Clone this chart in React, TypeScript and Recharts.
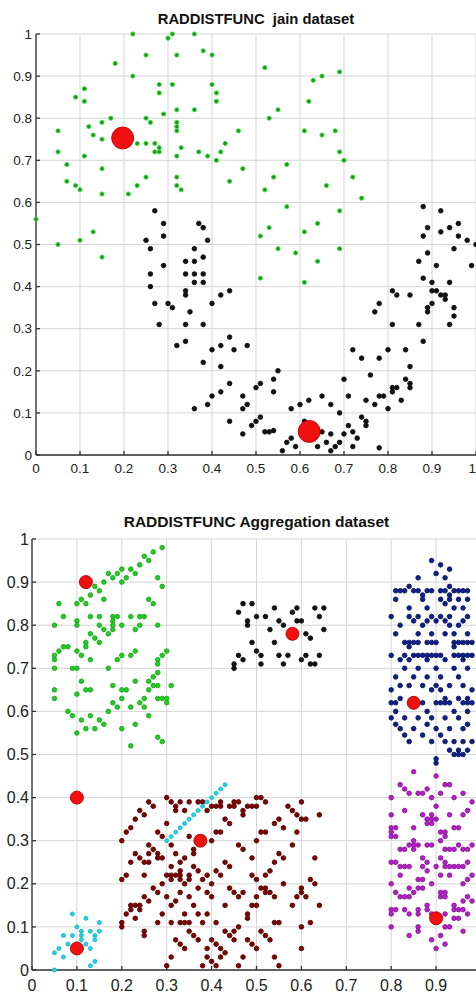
import React from "react";
import { ScatterChart, Scatter, XAxis, YAxis, CartesianGrid } from "recharts";

type P = [number, number];

const ticks = [0, 0.1, 0.2, 0.3, 0.4, 0.5, 0.6, 0.7, 0.8, 0.9, 1];

// jain dataset
const jainGreen: P[] = [
  [0.05, 0.77], [0.05, 0.72], [0.07, 0.69], [0.07, 0.65], [0.09, 0.64], [0.1, 0.63], [0.09, 0.85], [0.11, 0.87],
  [0.11, 0.84], [0.12, 0.78], [0.11, 0.71], [0.13, 0.76], [0.15, 0.79], [0.15, 0.75], [0.15, 0.68], [0.15, 0.62],
  [0.17, 0.8], [0.18, 0.93], [0.22, 1.0], [0.22, 0.9], [0.21, 0.62], [0.23, 0.74], [0.23, 0.64], [0.25, 0.95],
  [0.25, 0.8], [0.26, 0.79], [0.25, 0.74], [0.25, 0.66], [0.27, 0.74], [0.27, 0.72], [0.28, 0.72], [0.28, 0.73],
  [0.28, 0.88], [0.28, 0.86], [0.29, 0.81], [0.3, 0.99], [0.31, 1.0], [0.31, 0.88], [0.32, 0.95], [0.32, 0.82],
  [0.32, 0.79], [0.32, 0.78], [0.32, 0.77], [0.32, 0.71], [0.33, 0.73], [0.32, 0.66], [0.32, 0.64], [0.33, 0.63],
  [0.36, 1.0], [0.36, 0.82], [0.37, 0.72], [0.38, 0.96], [0.39, 0.71], [0.4, 0.95], [0.4, 0.88], [0.41, 0.86],
  [0.41, 0.84], [0.42, 0.72], [0.41, 0.7], [0.43, 0.74], [0.44, 0.65], [0.46, 0.77], [0.47, 0.68], [0.52, 0.92],
  [0.53, 0.8], [0.55, 0.82], [0.52, 0.63], [0.54, 0.66], [0.57, 0.69], [0.57, 0.59], [0.53, 0.54], [0.51, 0.52],
  [0.55, 0.49], [0.62, 0.84], [0.63, 0.89], [0.65, 0.9], [0.69, 0.91], [0.61, 0.77], [0.65, 0.76], [0.68, 0.77],
  [0.69, 0.72], [0.7, 0.7], [0.66, 0.64], [0.72, 0.66], [0.74, 0.61], [0.69, 0.58], [0.64, 0.55], [0.61, 0.53],
  [0.0, 0.56], [0.13, 0.53], [0.05, 0.5], [0.1, 0.51], [0.15, 0.47], [0.59, 0.48], [0.64, 0.46], [0.69, 0.49],
  [0.51, 0.42], [0.61, 0.41],
];

const jainBlack: P[] = [
  [0.25, 0.51], [0.26, 0.49], [0.26, 0.43], [0.26, 0.4], [0.29, 0.52], [0.29, 0.45], [0.27, 0.36], [0.3, 0.36],
  [0.31, 0.35], [0.28, 0.31], [0.32, 0.26], [0.34, 0.27], [0.34, 0.46], [0.34, 0.43], [0.34, 0.39], [0.34, 0.38],
  [0.34, 0.31], [0.35, 0.34], [0.36, 0.49], [0.36, 0.46], [0.36, 0.43], [0.36, 0.41], [0.38, 0.47], [0.38, 0.43],
  [0.38, 0.41], [0.38, 0.31], [0.39, 0.51], [0.36, 0.11], [0.38, 0.22], [0.39, 0.12], [0.4, 0.36], [0.4, 0.25],
  [0.4, 0.14], [0.42, 0.38], [0.42, 0.26], [0.42, 0.21], [0.42, 0.15], [0.44, 0.39], [0.44, 0.28], [0.45, 0.25],
  [0.44, 0.17], [0.44, 0.08], [0.48, 0.26], [0.47, 0.14], [0.47, 0.11], [0.48, 0.12], [0.47, 0.05], [0.49, 0.07],
  [0.5, 0.08], [0.5, 0.16], [0.51, 0.17], [0.51, 0.09], [0.52, 0.055], [0.53, 0.055], [0.54, 0.058], [0.54, 0.18],
  [0.55, 0.2], [0.54, 0.15], [0.56, 0.01], [0.57, 0.03], [0.58, 0.11], [0.58, 0.04], [0.59, 0.02], [0.6, 0.12],
  [0.61, 0.08], [0.62, 0.13], [0.64, 0.02], [0.65, 0.14], [0.65, 0.055], [0.66, 0.03], [0.67, 0.12], [0.67, 0.05],
  [0.67, 0.01], [0.68, 0.02], [0.69, 0.1], [0.69, 0.03], [0.7, 0.18], [0.7, 0.05], [0.71, 0.14], [0.71, 0.07],
  [0.72, 0.25], [0.72, 0.02], [0.72, 0.055], [0.73, 0.04], [0.74, 0.23], [0.74, 0.09], [0.75, 0.08], [0.75, 0.07],
  [0.75, 0.13], [0.76, 0.19], [0.77, 0.34], [0.78, 0.36], [0.77, 0.12], [0.78, 0.23], [0.78, 0.14], [0.79, 0.14],
  [0.78, 0.017], [0.8, 0.25], [0.8, 0.11], [0.81, 0.31], [0.81, 0.39], [0.82, 0.38], [0.81, 0.15], [0.81, 0.16],
  [0.82, 0.16], [0.83, 0.13], [0.84, 0.25], [0.84, 0.18], [0.85, 0.21], [0.85, 0.17], [0.85, 0.16], [0.85, 0.38],
  [0.87, 0.31], [0.87, 0.46], [0.88, 0.42], [0.88, 0.27], [0.88, 0.52], [0.89, 0.48], [0.89, 0.35], [0.89, 0.34],
  [0.9, 0.41], [0.9, 0.39], [0.9, 0.36], [0.91, 0.45], [0.91, 0.39], [0.92, 0.38], [0.93, 0.38], [0.92, 0.53],
  [0.93, 0.37], [0.94, 0.31], [0.94, 0.41], [0.95, 0.35], [0.95, 0.33], [0.95, 0.49], [0.96, 0.52], [0.98, 0.51],
  [0.99, 0.45], [1.0, 0.5], [0.27, 0.58], [0.29, 0.55], [0.37, 0.55], [0.38, 0.54], [0.88, 0.59], [0.89, 0.54],
  [0.92, 0.58], [0.94, 0.54], [0.96, 0.55],
];

const jainCenters: P[] = [[0.197, 0.753], [0.621, 0.056]];

// Aggregation dataset
const aggGreen: P[] = [
  [0.06, 0.85], [0.05, 0.8], [0.07, 0.82], [0.05, 0.73], [0.05, 0.72], [0.05, 0.7], [0.05, 0.65], [0.05, 0.63],
  [0.06, 0.74], [0.07, 0.75], [0.08, 0.75], [0.08, 0.6], [0.09, 0.59], [0.09, 0.7], [0.1, 0.7], [0.1, 0.64],
  [0.1, 0.55], [0.1, 0.85], [0.1, 0.81], [0.1, 0.8], [0.1, 0.74], [0.11, 0.73], [0.11, 0.86], [0.11, 0.67],
  [0.11, 0.58], [0.12, 0.56], [0.12, 0.65], [0.12, 0.85], [0.12, 0.76], [0.12, 0.75], [0.13, 0.82], [0.13, 0.78],
  [0.13, 0.87], [0.13, 0.72], [0.13, 0.65], [0.13, 0.59], [0.14, 0.89], [0.14, 0.77], [0.14, 0.56], [0.15, 0.82],
  [0.15, 0.8], [0.15, 0.76], [0.15, 0.58], [0.15, 0.88], [0.16, 0.86], [0.16, 0.9], [0.16, 0.57], [0.16, 0.79],
  [0.17, 0.92], [0.17, 0.78], [0.17, 0.7], [0.17, 0.6], [0.18, 0.82], [0.18, 0.81], [0.18, 0.8], [0.18, 0.79],
  [0.18, 0.91], [0.18, 0.62], [0.18, 0.66], [0.19, 0.92], [0.19, 0.82], [0.19, 0.61], [0.19, 0.72], [0.2, 0.73],
  [0.2, 0.93], [0.2, 0.9], [0.2, 0.8], [0.2, 0.65], [0.21, 0.65], [0.2, 0.63], [0.2, 0.56], [0.21, 0.91],
  [0.22, 0.93], [0.22, 0.82], [0.22, 0.61], [0.22, 0.73], [0.23, 0.92], [0.23, 0.79], [0.23, 0.74], [0.23, 0.67],
  [0.23, 0.57], [0.24, 0.94], [0.24, 0.8], [0.24, 0.82], [0.25, 0.82], [0.24, 0.62], [0.25, 0.61], [0.26, 0.59],
  [0.25, 0.96], [0.26, 0.95], [0.25, 0.63], [0.26, 0.65], [0.26, 0.67], [0.26, 0.86], [0.27, 0.85], [0.27, 0.97],
  [0.27, 0.68], [0.27, 0.66], [0.28, 0.69], [0.28, 0.66], [0.28, 0.91], [0.28, 0.8], [0.28, 0.72], [0.28, 0.71],
  [0.28, 0.63], [0.29, 0.98], [0.29, 0.89], [0.29, 0.73], [0.3, 0.74], [0.29, 0.63], [0.3, 0.63], [0.3, 0.62],
  [0.31, 0.66], [0.28, 0.54], [0.29, 0.53], [0.22, 0.52],
];

const aggBlack: P[] = [
  [0.45, 0.71], [0.45, 0.7], [0.46, 0.73], [0.47, 0.72], [0.46, 0.83], [0.47, 0.85], [0.49, 0.85], [0.48, 0.81],
  [0.48, 0.8], [0.49, 0.76], [0.5, 0.82], [0.5, 0.74], [0.51, 0.73], [0.51, 0.71], [0.52, 0.82], [0.53, 0.79],
  [0.54, 0.84], [0.54, 0.76], [0.55, 0.81], [0.55, 0.73], [0.56, 0.8], [0.56, 0.71], [0.57, 0.73], [0.58, 0.83],
  [0.59, 0.84], [0.59, 0.81], [0.6, 0.81], [0.6, 0.72], [0.61, 0.78], [0.61, 0.73], [0.62, 0.77], [0.62, 0.71],
  [0.63, 0.71], [0.63, 0.84], [0.64, 0.82], [0.64, 0.73], [0.65, 0.84], [0.65, 0.79],
];

const aggBlue: P[] = [
  [0.89, 0.95], [0.91, 0.94], [0.93, 0.93], [0.9, 0.92], [0.86, 0.91], [0.92, 0.91],
  [0.81, 0.88], [0.82, 0.88], [0.83, 0.88], [0.84, 0.89], [0.85, 0.88], [0.86, 0.88], [0.87, 0.87], [0.88, 0.88],
  [0.89, 0.88], [0.91, 0.88], [0.92, 0.88], [0.93, 0.89], [0.93, 0.87], [0.94, 0.88], [0.95, 0.88], [0.96, 0.88],
  [0.97, 0.88], [0.81, 0.86], [0.87, 0.86], [0.91, 0.86], [0.93, 0.86], [0.95, 0.86], [0.97, 0.86],
  [0.84, 0.84], [0.88, 0.84], [0.92, 0.85], [0.94, 0.84], [0.96, 0.84],
  [0.8, 0.82], [0.84, 0.82], [0.86, 0.82], [0.89, 0.82], [0.91, 0.82], [0.93, 0.82], [0.97, 0.82],
  [0.85, 0.81], [0.88, 0.81], [0.9, 0.81], [0.92, 0.81], [0.96, 0.81],
  [0.82, 0.8], [0.87, 0.8], [0.93, 0.8], [0.95, 0.8],
  [0.81, 0.78], [0.86, 0.78], [0.89, 0.78], [0.92, 0.78], [0.94, 0.78], [0.97, 0.78],
  [0.83, 0.76], [0.84, 0.76], [0.85, 0.76], [0.86, 0.76], [0.88, 0.76], [0.89, 0.76], [0.9, 0.76], [0.94, 0.76],
  [0.95, 0.76], [0.96, 0.76], [0.97, 0.76], [0.98, 0.76], [0.84, 0.75], [0.94, 0.75],
  [0.8, 0.73], [0.83, 0.73], [0.85, 0.73], [0.86, 0.73], [0.87, 0.73], [0.88, 0.73], [0.89, 0.73], [0.9, 0.73],
  [0.91, 0.73], [0.94, 0.73], [0.95, 0.73], [0.96, 0.73], [0.97, 0.73], [0.98, 0.73],
  [0.82, 0.72], [0.84, 0.72], [0.88, 0.72], [0.92, 0.72], [0.96, 0.72],
  [0.83, 0.7], [0.86, 0.7], [0.9, 0.7], [0.94, 0.7], [0.97, 0.7],
  [0.81, 0.68], [0.85, 0.68], [0.88, 0.68], [0.91, 0.68], [0.95, 0.68],
  [0.82, 0.66], [0.84, 0.66], [0.87, 0.66], [0.9, 0.66], [0.93, 0.66], [0.96, 0.66],
  [0.8, 0.65], [0.89, 0.65], [0.91, 0.65], [0.98, 0.65],
  [0.82, 0.63], [0.92, 0.63], [0.95, 0.63], [0.97, 0.63],
  [0.8, 0.62], [0.81, 0.62], [0.87, 0.62], [0.9, 0.62], [0.91, 0.62], [0.92, 0.62], [0.93, 0.62], [0.96, 0.62],
  [0.97, 0.62], [0.98, 0.62], [0.81, 0.6], [0.88, 0.6], [0.94, 0.6], [0.97, 0.6],
  [0.8, 0.585], [0.83, 0.585], [0.86, 0.585], [0.89, 0.585], [0.92, 0.585], [0.95, 0.585],
  [0.81, 0.57], [0.88, 0.57], [0.97, 0.57], [0.82, 0.56], [0.85, 0.56], [0.9, 0.56], [0.93, 0.56], [0.96, 0.56],
  [0.83, 0.545], [0.87, 0.545], [0.91, 0.545], [0.84, 0.53], [0.89, 0.53], [0.92, 0.53], [0.94, 0.53], [0.96, 0.53],
  [0.93, 0.51], [0.95, 0.51], [0.94, 0.5], [0.95, 0.5], [0.96, 0.5], [0.97, 0.51], [0.98, 0.53], [0.9, 0.49],
  [0.9, 0.48],
];

const aggMagenta: P[] = [
  [0.85, 0.46], [0.9, 0.45], [0.8, 0.4], [0.82, 0.43], [0.83, 0.42], [0.84, 0.41], [0.86, 0.41], [0.87, 0.41],
  [0.88, 0.42], [0.89, 0.4], [0.92, 0.43], [0.93, 0.43], [0.91, 0.41], [0.94, 0.4], [0.96, 0.41], [0.9, 0.38],
  [0.98, 0.39], [0.8, 0.36], [0.83, 0.37], [0.87, 0.36], [0.88, 0.35], [0.89, 0.35], [0.9, 0.35], [0.89, 0.36],
  [0.93, 0.36], [0.96, 0.36], [0.97, 0.37], [0.8, 0.33], [0.81, 0.33], [0.8, 0.32], [0.81, 0.31], [0.8, 0.31],
  [0.85, 0.33], [0.91, 0.32], [0.92, 0.32], [0.92, 0.31], [0.88, 0.34], [0.89, 0.34], [0.94, 0.33], [0.95, 0.33],
  [0.84, 0.29], [0.85, 0.29], [0.86, 0.29], [0.85, 0.3], [0.85, 0.28], [0.82, 0.28], [0.83, 0.28], [0.88, 0.29],
  [0.89, 0.29], [0.92, 0.28], [0.93, 0.28], [0.94, 0.28], [0.95, 0.29], [0.96, 0.28], [0.97, 0.28], [0.98, 0.29],
  [0.91, 0.3], [0.8, 0.25], [0.81, 0.25], [0.83, 0.24], [0.84, 0.24], [0.82, 0.24], [0.87, 0.26], [0.87, 0.24],
  [0.88, 0.23], [0.88, 0.25], [0.91, 0.26], [0.9, 0.24], [0.92, 0.25], [0.92, 0.24], [0.93, 0.24], [0.94, 0.24],
  [0.95, 0.24], [0.96, 0.24], [0.97, 0.25], [0.82, 0.22], [0.8, 0.2], [0.86, 0.21], [0.87, 0.21], [0.87, 0.19],
  [0.86, 0.19], [0.84, 0.19], [0.91, 0.22], [0.93, 0.22], [0.89, 0.2], [0.96, 0.2], [0.97, 0.21], [0.98, 0.22],
  [0.81, 0.18], [0.82, 0.17], [0.83, 0.17], [0.84, 0.17], [0.85, 0.18], [0.91, 0.18], [0.91, 0.17], [0.92, 0.18],
  [0.92, 0.17], [0.88, 0.15], [0.94, 0.15], [0.96, 0.16], [0.97, 0.17], [0.98, 0.16], [0.8, 0.14], [0.8, 0.13],
  [0.81, 0.14], [0.83, 0.14], [0.84, 0.13], [0.86, 0.14], [0.86, 0.13], [0.88, 0.14], [0.89, 0.13], [0.92, 0.13],
  [0.94, 0.14], [0.95, 0.14], [0.96, 0.14], [0.97, 0.13], [0.8, 0.1], [0.86, 0.09], [0.86, 0.1], [0.84, 0.08],
  [0.92, 0.1], [0.93, 0.1], [0.94, 0.12], [0.95, 0.12], [0.96, 0.09], [0.89, 0.07], [0.91, 0.08], [0.92, 0.06],
  [0.9, 0.05],
];

const aggBrown: P[] = [
  [0.2, 0.3], [0.2, 0.21], [0.2, 0.11], [0.2, 0.1], [0.21, 0.32], [0.21, 0.22], [0.21, 0.13], [0.22, 0.33],
  [0.22, 0.25], [0.22, 0.15], [0.23, 0.15], [0.24, 0.15], [0.22, 0.14], [0.24, 0.14], [0.23, 0.35], [0.23, 0.27],
  [0.23, 0.12], [0.24, 0.37], [0.24, 0.26], [0.25, 0.36], [0.25, 0.25], [0.26, 0.25], [0.25, 0.22], [0.25, 0.17],
  [0.25, 0.09], [0.25, 0.08], [0.26, 0.16], [0.26, 0.29], [0.26, 0.27], [0.26, 0.39], [0.27, 0.38], [0.27, 0.28],
  [0.28, 0.27], [0.28, 0.26], [0.27, 0.19], [0.28, 0.18], [0.28, 0.32], [0.28, 0.11], [0.29, 0.26], [0.29, 0.2],
  [0.29, 0.31], [0.29, 0.13], [0.3, 0.4], [0.3, 0.34], [0.3, 0.22], [0.3, 0.17], [0.3, 0.01], [0.31, 0.39],
  [0.31, 0.29], [0.31, 0.24], [0.31, 0.22], [0.31, 0.21], [0.31, 0.15], [0.31, 0.11], [0.31, 0.03], [0.32, 0.38],
  [0.32, 0.37], [0.32, 0.27], [0.32, 0.22], [0.33, 0.22], [0.33, 0.21], [0.32, 0.16], [0.32, 0.07], [0.33, 0.25],
  [0.33, 0.23], [0.33, 0.18], [0.33, 0.11], [0.34, 0.11], [0.35, 0.11], [0.33, 0.06], [0.33, 0.39], [0.34, 0.37],
  [0.34, 0.26], [0.34, 0.2], [0.34, 0.13], [0.34, 0.05], [0.35, 0.39], [0.35, 0.31], [0.35, 0.22], [0.35, 0.21],
  [0.35, 0.17], [0.35, 0.09], [0.36, 0.28], [0.36, 0.27], [0.36, 0.24], [0.36, 0.15], [0.36, 0.08], [0.37, 0.39],
  [0.38, 0.39], [0.37, 0.23], [0.37, 0.19], [0.37, 0.13], [0.37, 0.07], [0.38, 0.21], [0.38, 0.11], [0.38, 0.01],
  [0.39, 0.37], [0.39, 0.22], [0.39, 0.18], [0.39, 0.13], [0.39, 0.05], [0.39, 0.03], [0.4, 0.38], [0.41, 0.38],
  [0.4, 0.3], [0.4, 0.2], [0.4, 0.17], [0.4, 0.07], [0.4, 0.02], [0.41, 0.32], [0.42, 0.32], [0.41, 0.23],
  [0.41, 0.11], [0.41, 0.06], [0.41, 0.01], [0.42, 0.39], [0.42, 0.38], [0.42, 0.22], [0.42, 0.05], [0.42, 0.03],
  [0.43, 0.35], [0.43, 0.25], [0.43, 0.15], [0.43, 0.09], [0.43, 0.04], [0.44, 0.38], [0.45, 0.38], [0.44, 0.34],
  [0.44, 0.24], [0.44, 0.19], [0.44, 0.08], [0.45, 0.39], [0.46, 0.39], [0.45, 0.18], [0.45, 0.09], [0.45, 0.07],
  [0.46, 0.29], [0.46, 0.17], [0.46, 0.1], [0.46, 0.01], [0.47, 0.37], [0.47, 0.36], [0.47, 0.28], [0.47, 0.18],
  [0.47, 0.03], [0.48, 0.38], [0.49, 0.38], [0.48, 0.13], [0.48, 0.12], [0.48, 0.07], [0.49, 0.26], [0.49, 0.22],
  [0.49, 0.15], [0.5, 0.15], [0.49, 0.06], [0.5, 0.4], [0.51, 0.4], [0.5, 0.38], [0.5, 0.3], [0.5, 0.21],
  [0.5, 0.17], [0.5, 0.05], [0.51, 0.32], [0.52, 0.32], [0.51, 0.19], [0.52, 0.19], [0.51, 0.09], [0.52, 0.39],
  [0.52, 0.22], [0.52, 0.18], [0.53, 0.18], [0.52, 0.08], [0.53, 0.07], [0.53, 0.23], [0.54, 0.17], [0.54, 0.34],
  [0.54, 0.25], [0.54, 0.11], [0.55, 0.11], [0.54, 0.03], [0.55, 0.35], [0.55, 0.27], [0.55, 0.01], [0.56, 0.26],
  [0.56, 0.33], [0.56, 0.2], [0.57, 0.38], [0.58, 0.37], [0.58, 0.29], [0.58, 0.15], [0.59, 0.36], [0.59, 0.32],
  [0.59, 0.17], [0.6, 0.39], [0.6, 0.35], [0.61, 0.35], [0.6, 0.19], [0.6, 0.18], [0.6, 0.1], [0.6, 0.05],
  [0.61, 0.17], [0.62, 0.21], [0.62, 0.11], [0.63, 0.26], [0.63, 0.2], [0.64, 0.36], [0.64, 0.15],
];

const aggCyan: P[] = [
  [0.3, 0.3], [0.31, 0.31], [0.32, 0.32], [0.33, 0.33], [0.34, 0.34], [0.35, 0.35], [0.36, 0.36], [0.37, 0.37],
  [0.38, 0.38], [0.39, 0.39], [0.4, 0.4], [0.41, 0.41], [0.42, 0.42], [0.43, 0.43],
  [0.09, 0.13], [0.05, 0.04], [0.06, 0.05], [0.07, 0.08], [0.07, 0.03], [0.09, 0.08], [0.1, 0.1], [0.11, 0.09],
  [0.11, 0.08], [0.11, 0.07], [0.12, 0.12], [0.12, 0.06], [0.13, 0.05], [0.13, 0.09], [0.14, 0.07], [0.14, 0.08],
  [0.14, 0.02], [0.13, 0.01], [0.15, 0.11], [0.15, 0.09], [0.05, 0.0], [0.08, 0.06],
];

const aggCenters: P[] = [
  [0.12, 0.9], [0.58, 0.78], [0.85, 0.62], [0.1, 0.4], [0.375, 0.3], [0.1, 0.05], [0.9, 0.12],
];

const toPts = (a: P[]) => a.map(([x, y]) => ({ x, y }));

const dot = (fill: string, stroke: string, r: number) => (p: any) => (
  <circle cx={p.cx} cy={p.cy} r={r} fill={fill} stroke={stroke} strokeWidth={0.9} />
);

const font = "'Liberation Sans', Arial, sans-serif";
const axisColor = "#333";

// the last label sits on the page edge: anchor it to the end so it stays readable
const topXTick = (p: any) => {
  const v = p.payload.value;
  return (
    <text x={p.x} y={p.y} dy="0.71em" textAnchor={v === 1 ? "end" : "middle"} fontSize={13.5} fill="#222" fontFamily={font}>
      {String(v)}
    </text>
  );
};

export default function App() {
  return (
    <div style={{ position: "fixed", left: 0, top: 0, width: 476, height: 995, overflow: "hidden", background: "#fff", fontFamily: font }}>
      <div style={{ position: "absolute", left: 0, width: 512, top: 11, textAlign: "center", fontWeight: "bold", fontSize: 14.8, lineHeight: "17px", color: "#111" }}>
        RADDISTFUNC&nbsp; jain dataset
      </div>
      <div style={{ position: "absolute", left: 0, top: 0 }}>
        <ScatterChart width={476} height={477} margin={{ top: 34, right: 0, bottom: 0, left: 0 }}>
          <CartesianGrid stroke="#d6d6d6" strokeWidth={1} />
          <XAxis type="number" dataKey="x" domain={[0, 1]} ticks={ticks} interval={0} height={22}
            stroke={axisColor} strokeWidth={1.3} tickSize={-4} tickMargin={12} tick={topXTick} />
          <YAxis type="number" dataKey="y" domain={[0, 1]} ticks={ticks} interval={0} width={36}
            stroke={axisColor} strokeWidth={1.3} tickSize={-4} tickMargin={8}
            tick={{ fontSize: 13.5, fill: "#222", fontFamily: font }} />
          <XAxis xAxisId="top" orientation="top" type="number" domain={[0, 1]} ticks={ticks} interval={0} height={0}
            stroke={axisColor} strokeWidth={1.3} tickSize={-4} tickFormatter={() => ""} />
          <YAxis yAxisId="right" orientation="right" type="number" domain={[0, 1]} ticks={ticks} interval={0} width={0}
            stroke={axisColor} strokeWidth={1.3} tickSize={-4} tickFormatter={() => ""} />
          <Scatter data={toPts(jainGreen)} shape={dot("#239023", "#33e633", 2.1)} isAnimationActive={false} />
          <Scatter data={toPts(jainBlack)} shape={dot("#111", "#111", 2.3)} isAnimationActive={false} />
          <Scatter data={toPts(jainCenters)} shape={dot("#f01010", "#c00000", 11)} isAnimationActive={false} />
        </ScatterChart>
      </div>

      <div style={{ position: "absolute", left: 0, width: 513, top: 513, textAlign: "center", fontWeight: "bold", fontSize: 15.5, lineHeight: "18px", color: "#111" }}>
        RADDISTFUNC Aggregation dataset
      </div>
      <div style={{ position: "absolute", left: 0, top: 500 }}>
        <ScatterChart width={490} height={495} margin={{ top: 39, right: 9, bottom: 0, left: 0 }}>
          <CartesianGrid stroke="#d6d6d6" strokeWidth={1} />
          <XAxis type="number" dataKey="x" domain={[0, 1]} ticks={ticks} interval={0} height={25}
            stroke={axisColor} strokeWidth={1.3} tickSize={-4} tickMargin={14}
            tickFormatter={(v: number) => (v === 1 ? "" : String(v))}
            tick={{ fontSize: 16, fill: "#222", fontFamily: font }} />
          <YAxis type="number" dataKey="y" domain={[0, 1]} ticks={ticks} interval={0} width={32}
            stroke={axisColor} strokeWidth={1.3} tickSize={-4} tickMargin={7}
            tick={{ fontSize: 16, fill: "#222", fontFamily: font }} />
          <XAxis xAxisId="top" orientation="top" type="number" domain={[0, 1]} ticks={ticks} interval={0} height={0}
            stroke={axisColor} strokeWidth={1.3} tickSize={-4} tickFormatter={() => ""} />
          <YAxis yAxisId="right" orientation="right" type="number" domain={[0, 1]} ticks={ticks} interval={0} width={0}
            stroke={axisColor} strokeWidth={1.3} tickSize={-4} tickFormatter={() => ""} />
          <Scatter data={toPts(aggGreen)} shape={dot("#22cc22", "#1aa81a", 2.3)} isAnimationActive={false} />
          <Scatter data={toPts(aggBlack)} shape={dot("#111", "#111", 2.3)} isAnimationActive={false} />
          <Scatter data={toPts(aggBlue)} shape={dot("#10208a", "#0a1660", 2.3)} isAnimationActive={false} />
          <Scatter data={toPts(aggMagenta)} shape={dot("#b61fc8", "#8a1898", 2.3)} isAnimationActive={false} />
          <Scatter data={toPts(aggBrown)} shape={dot("#7a0606", "#5a0000", 2.3)} isAnimationActive={false} />
          <Scatter data={toPts(aggCyan)} shape={dot("#22d4e4", "#1ab8c8", 2)} isAnimationActive={false} />
          <Scatter data={toPts(aggCenters)} shape={dot("#f01010", "#b00000", 6.5)} isAnimationActive={false} />
        </ScatterChart>
      </div>
    </div>
  );
}
